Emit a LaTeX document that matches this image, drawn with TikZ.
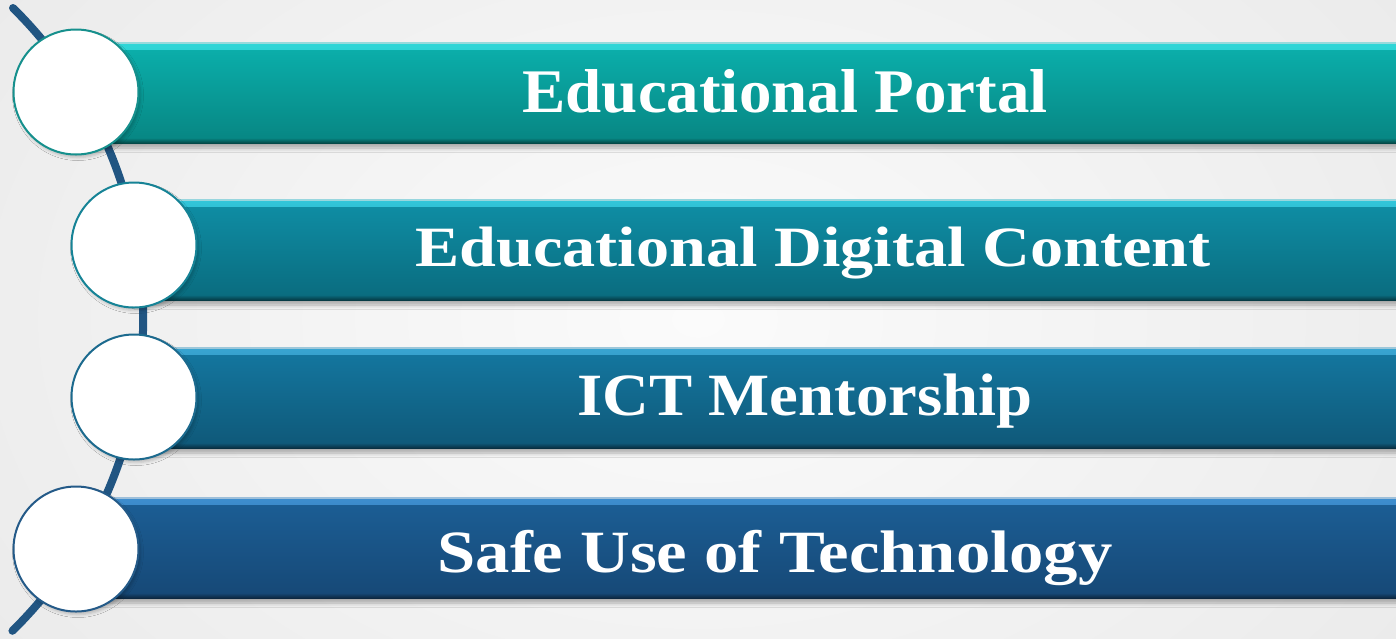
\documentclass[tikz,border=0pt]{standalone}
\usepackage{fontspec}
\usepackage{graphicx}
\setmainfont{Liberation Serif}
\usetikzlibrary{shadows.blur}
\definecolor{arcblue}{HTML}{215582}
\definecolor{bgA}{HTML}{FBFBFB}
\definecolor{bgB}{HTML}{EAEAEA}
\definecolor{bA}{HTML}{0BB1AD}\definecolor{bAd}{HTML}{078582}\definecolor{bAh}{HTML}{3DE3E6}\definecolor{cA}{HTML}{16908D}
\definecolor{bB}{HTML}{0F8FA6}\definecolor{bBd}{HTML}{0A6B7E}\definecolor{bBh}{HTML}{3ED8EC}\definecolor{cB}{HTML}{168396}
\definecolor{bC}{HTML}{1478A1}\definecolor{bCd}{HTML}{0F5878}\definecolor{bCh}{HTML}{46B4E2}\definecolor{cC}{HTML}{1C6A8E}
\definecolor{bD}{HTML}{1C5F96}\definecolor{bDd}{HTML}{164876}\definecolor{bDh}{HTML}{4A9EE2}\definecolor{cD}{HTML}{245A88}
\tikzset{
  barbox/.style n args={4}{anchor=north west, minimum height=101pt, minimum width=#1,
    inner sep=0pt, outer sep=0pt, top color=#2, bottom color=#3,
    blur shadow={shadow xshift=0pt, shadow yshift=-5pt, shadow blur radius=4pt, shadow opacity=30},
    path picture={
      \shade[top color=#4!75!#2, bottom color=#2]
        ([yshift=-1.5pt]path picture bounding box.north west) rectangle ([yshift=-7pt]path picture bounding box.north east);
      \fill[#4!50!white!80!gray] (path picture bounding box.north west) rectangle ([yshift=-1.5pt]path picture bounding box.north east);
      \shade[top color=#3, bottom color=#3!55!black]
        ([yshift=5pt]path picture bounding box.south west) rectangle (path picture bounding box.south east);
    }},
  dot/.style={circle, minimum size=125pt, inner sep=0pt, fill=white, draw=#1, line width=2pt,
    blur shadow={shadow xshift=2pt, shadow yshift=-3pt, shadow blur radius=3pt, shadow opacity=22}},
  lbl/.style={anchor=base, text=white, inner sep=0pt, font=\bfseries}
}
\begin{document}
\begin{tikzpicture}[x=1pt,y=-1pt]
\useasboundingbox (0,0) rectangle (1396,638);
\shade[inner color=bgA, outer color=bgB] (-200,-300) rectangle (1596,938);
% arc
\draw[arcblue, line width=8pt, line cap=round] (13,8) arc[start angle=-45.4, end angle=45.5, radius=437];
% bars
\node[barbox={1330pt}{bA}{bAd}{bAh}] (b1) at (76,42) {};
\node[barbox={1272pt}{bB}{bBd}{bBh}] (b2) at (134,199) {};
\node[barbox={1272pt}{bC}{bCd}{bCh}] (b3) at (134,347) {};
\node[barbox={1330pt}{bD}{bDd}{bDh}] (b4) at (76,497) {};
% circles
\node[dot=cA] (c1) at (76,92) {};
\node[dot=cB] (c2) at (134,245) {};
\node[dot=cC] (c3) at (134,397) {};
\node[dot=cD] (c4) at (76,549) {};
% labels
\node[lbl] (t1) at (785,112) {\fontsize{62}{62}\selectfont\resizebox{525pt}{\height}{Educational Portal}};
\node[lbl] (t2) at (813,266) {\fontsize{57}{57}\selectfont\resizebox{795pt}{\height}{Educational Digital Content}};
\node[lbl] (t3) at (805,415) {\fontsize{60}{60}\selectfont\resizebox{455pt}{\height}{ICT Mentorship}};
\node[lbl] (t4) at (775,572) {\fontsize{60}{60}\selectfont\resizebox{675pt}{\height}{Safe Use of Technology}};
\end{tikzpicture}
\end{document}
